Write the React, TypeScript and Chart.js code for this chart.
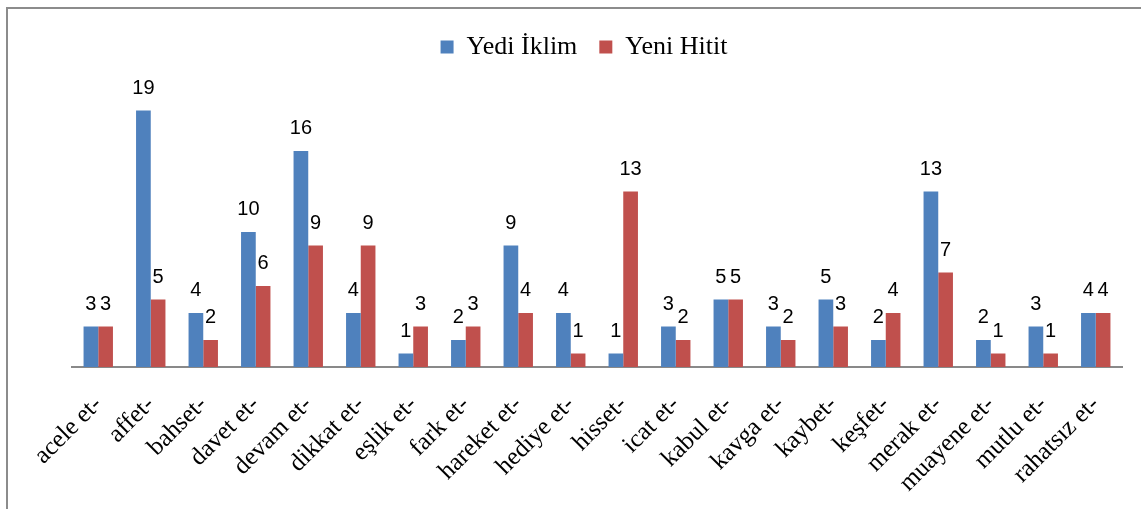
import React, { useEffect, useRef } from "react";
import { Chart, registerables } from "chart.js";

Chart.register(...registerables);

const categories = [
  "acele et-", "affet-", "bahset-", "davet et-", "devam et-", "dikkat et-", "eşlik et-",
  "fark et-", "hareket et-", "hediye et-", "hisset-", "icat et-", "kabul et-", "kavga et-",
  "kaybet-", "keşfet-", "merak et-", "muayene et-", "mutlu et-", "rahatsız et-",
];
const yediIklim = [3, 19, 4, 10, 16, 4, 1, 2, 9, 4, 1, 3, 5, 3, 5, 2, 13, 2, 3, 4];
const yeniHitit = [3, 5, 2, 6, 9, 9, 3, 3, 4, 1, 13, 2, 5, 2, 3, 4, 7, 1, 1, 4];
const seriesNames = ["Yedi İklim", "Yeni Hitit"];

const frame = {
  id: "frame",
  beforeDraw(chart: any) {
    const ctx = chart.ctx;
    ctx.save();
    ctx.fillStyle = "#ffffff";
    ctx.fillRect(0, 0, chart.width, chart.height);
    ctx.strokeStyle = "#8c8c8c";
    ctx.lineWidth = 2;
    ctx.strokeRect(7, 8, chart.width + 20, chart.height + 20);
    ctx.restore();
  },
};

const legendShift = {
  id: "legendShift",
  afterLayout(chart: any) {
    if (chart.legend) {
      chart.legend.left -= 13;
      chart.legend.right -= 13;
    }
  },
};

const valueLabels = {
  id: "valueLabels",
  afterDatasetsDraw(chart: any) {
    const ctx = chart.ctx;
    ctx.save();
    ctx.font = '20px "Liberation Sans", Arial, sans-serif';
    ctx.fillStyle = "#000000";
    ctx.textAlign = "center";
    ctx.textBaseline = "alphabetic";
    chart.data.datasets.forEach((ds: any, i: number) => {
      const meta = chart.getDatasetMeta(i);
      meta.data.forEach((el: any, j: number) => {
        ctx.fillText(String(ds.data[j]), el.x, el.y - 17);
      });
    });
    ctx.restore();
  },
};

export default function App() {
  const ref = useRef<HTMLCanvasElement | null>(null);

  useEffect(() => {
    document.body.style.margin = "0";
    const chart = new Chart(ref.current as HTMLCanvasElement, {
      type: "bar",
      data: {
        labels: categories,
        datasets: [
          {
            label: seriesNames[0],
            data: yediIklim,
            backgroundColor: "#4f81bd",
            borderWidth: 0,
            categoryPercentage: 0.56,
            barPercentage: 1,
          },
          {
            label: seriesNames[1],
            data: yeniHitit,
            backgroundColor: "#c0504d",
            borderWidth: 0,
            categoryPercentage: 0.56,
            barPercentage: 1,
          },
        ],
      },
      options: {
        animation: false,
        responsive: true,
        maintainAspectRatio: false,
        layout: { padding: { left: 72, right: 19, top: 12, bottom: 0 } },
        plugins: {
          tooltip: { enabled: false },
          legend: {
            display: true,
            position: "top",
            labels: {
              boxWidth: 13,
              boxHeight: 13,
              padding: 22,
              color: "#000000",
              font: { family: '"Liberation Serif", "Times New Roman", serif', size: 26 },
            },
          },
        },
        scales: {
          x: {
            grid: { display: false, drawTicks: false },
            border: { display: true, color: "#898989", width: 2 },
            ticks: {
              autoSkip: false,
              minRotation: 45,
              maxRotation: 45,
              padding: 23,
              color: "#000000",
              font: { family: '"Liberation Serif", "Times New Roman", serif', size: 25 },
            },
            afterFit: (scale: any) => {
              scale.height = 142;
            },
          },
          y: {
            display: false,
            min: 0,
            max: 22,
          },
        },
      },
      plugins: [frame, legendShift, valueLabels],
    });
    return () => chart.destroy();
  }, []);

  return (
    <div style={{ width: 1141, height: 509, position: "relative" }}>
      <canvas ref={ref} />
    </div>
  );
}
